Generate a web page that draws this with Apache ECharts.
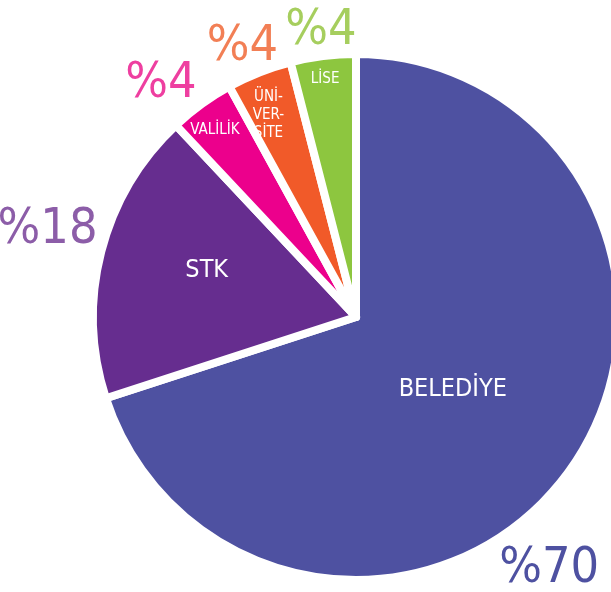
<!DOCTYPE html>
<html>
<head>
<meta charset="utf-8">
<script src="https://cdn.jsdelivr.net/npm/echarts@6/dist/echarts.min.js"></script>
<style>
  html, body { margin: 0; padding: 0; background: #fff; }
  #chart { width: 611px; height: 592px; }
</style>
</head>
<body>
<div id="chart"></div>
<script>
// veriler
var categories = ['BELEDİYE', 'STK', 'VALİLİK', 'ÜNİ-\nVER-\nSİTE', 'LİSE'];
var shares = [70, 18, 4, 4, 4];

// renkler
var sliceColors = ['#4E51A1', '#662D8F', '#EC008C', '#F15A29', '#8DC63F'];
var textColors = ['#4E51A1', '#8C5DA8', '#EE3FA0', '#F27F55', '#A6CE5E'];
var innerFont = [25, 25, 15, 15, 15];
// etiketlerin kaydırılması
var innerOffset = [[-12, -7], [-19, -13], [-62, -78], [-38, -77], [-14, -104]];
var outerOffset = [[-52, 74], [-15, -12], [-17, 12], [-2, 12], [3, 15]];

var FONT = "'DejaVu Sans Condensed', 'DejaVu Sans', sans-serif";
var chart = echarts.init(document.getElementById('chart'));

var mainData = categories.map(function (name, i) {
    return {
        name: name,
        value: shares[i],
        itemStyle: { color: sliceColors[i] },
        label: { fontSize: innerFont[i], offset: innerOffset[i] }
    };
});

var outerData = categories.map(function (name, i) {
    return {
        name: name,
        value: shares[i],
        label: { color: textColors[i], offset: outerOffset[i] }
    };
});

var option = {
    animation: false,
    series: [
        {
            // dilimler
            type: 'pie',
            center: [356, 317],
            radius: 263,
            startAngle: 90,
            clockwise: true,
            silent: true,
            itemStyle: { borderColor: '#fff', borderWidth: 8 },
            label: {
                show: true,
                position: 'inside',
                color: '#fff',
                fontFamily: FONT,
                lineHeight: 18,
                formatter: '{b}'
            },
            labelLine: { show: false },
            data: mainData
        },
        {
            // yüzde etiketleri
            type: 'pie',
            center: [356, 317],
            radius: [280, 320],
            startAngle: 90,
            clockwise: true,
            silent: true,
            itemStyle: { color: 'rgba(0,0,0,0)' },
            label: {
                show: true,
                position: 'inside',
                fontFamily: FONT,
                fontSize: 50,
                formatter: function (p) { return '%' + p.value; }
            },
            labelLine: { show: false },
            data: outerData
        }
    ]
};

chart.setOption(option);
</script>
</body>
</html>
